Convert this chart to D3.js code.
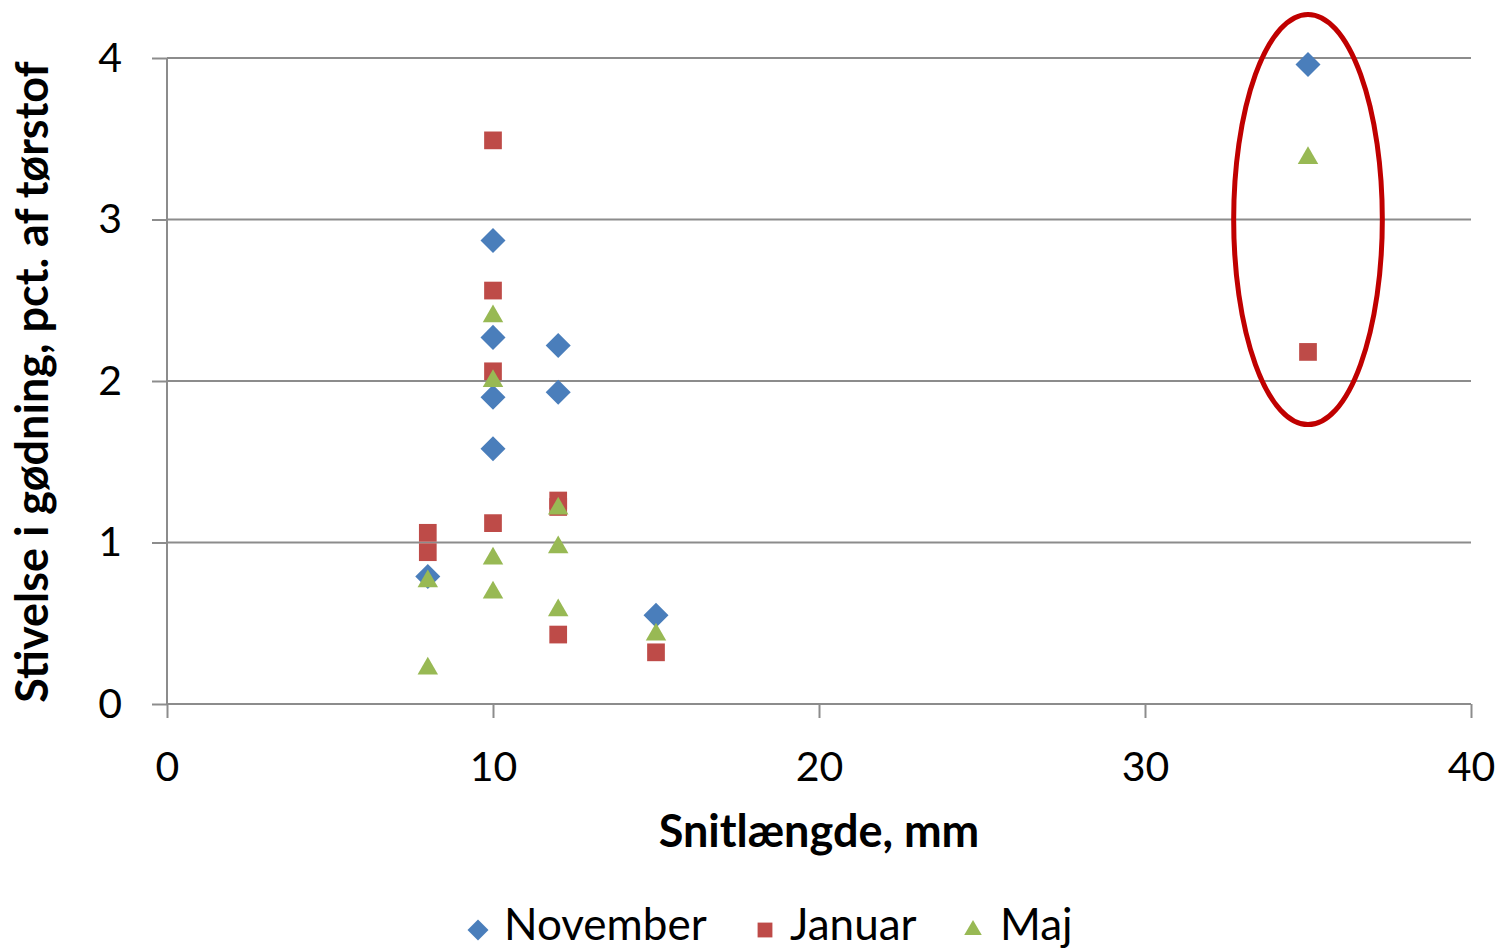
<!DOCTYPE html>
<html lang="da">
<head>
<meta charset="UTF-8">
<title>Stivelse i gødning</title>
<script src="https://cdn.jsdelivr.net/npm/d3@7"></script>
<style>
  body { margin: 0; background: #fff; }
  text { font-family: Lato, "Open Sans", sans-serif; fill: #000; }
</style>
</head>
<body>
<script>
// Data (x = snitlængde mm, y = stivelse pct.)
const novemberX = [8, 10, 10, 10, 10, 12, 12, 15, 35];
const novemberY = [0.79, 2.87, 2.27, 1.90, 1.58, 2.22, 1.93, 0.55, 3.96];
const januarX = [8, 8, 10, 10, 10, 10, 12, 12, 12, 15, 35];
const januarY = [1.06, 0.94, 3.49, 2.56, 2.06, 1.12, 1.26, 1.22, 0.43, 0.32, 2.18];
const majX = [8, 8, 10, 10, 10, 10, 12, 12, 12, 15, 35];
const majY = [0.76, 0.22, 2.40, 2.00, 0.90, 0.69, 1.21, 0.97, 0.58, 0.43, 3.38];
const seriesNames = ["November", "Januar", "Maj"];
const xTicks = [0, 10, 20, 30, 40];
const yTicks = [0, 1, 2, 3, 4];
// highlighted area around the 35 mm points (data units)
const ringCenter = [35, 3.0];
const ringRadius = [2.28, 1.27];

const width = 1501, height = 950;
const colors = {November: "#4a7ebb", Januar: "#be4b48", Maj: "#98b954"};
const symbols = {November: d3.symbolDiamond2, Januar: d3.symbolSquare2, Maj: d3.symbolTriangle2};

const svg = d3.select("body").append("svg")
    .attr("width", width)
    .attr("height", height);

const x = d3.scaleLinear().domain([0, 40]).range([167, 1471]);
const y = d3.scaleLinear().domain([0, 4]).range([704, 58]);

// gridlines
svg.append("g")
    .selectAll("line")
    .data(yTicks.slice(1))
    .join("line")
    .attr("x1", x(0)).attr("x2", x(40))
    .attr("y1", d => y(d)).attr("y2", d => y(d))
    .attr("stroke", "#8c8c8c")
    .attr("stroke-width", 2);

// y axis
const yAxis = svg.append("g")
    .attr("transform", `translate(${x(0)},0)`)
    .call(d3.axisLeft(y).tickValues(yTicks).tickSize(15).tickPadding(30).tickFormat(d3.format("d")));
// x axis
const xAxis = svg.append("g")
    .attr("transform", `translate(0,${y(0)})`)
    .call(d3.axisBottom(x).tickValues(xTicks).tickSize(14).tickPadding(34).tickFormat(d3.format("d")));

[yAxis, xAxis].forEach(a => {
    a.select(".domain").attr("stroke", "#8c8c8c").attr("stroke-width", 2);
    a.selectAll(".tick line").attr("stroke", "#8c8c8c").attr("stroke-width", 2);
    a.selectAll(".tick text").attr("font-size", 41).attr("font-family", "Lato, 'Open Sans', sans-serif").attr("fill", "#000");
});
// plain axis lines without outer ticks
yAxis.select(".domain").attr("d", `M0,${y(4)}V${y(0)}`);
xAxis.select(".domain").attr("d", `M${x(0)},0H${x(40)}`);

// points
const series = [
    {name: "November", xs: novemberX, ys: novemberY},
    {name: "Januar", xs: januarX, ys: januarY},
    {name: "Maj", xs: majX, ys: majY}
];
series.forEach(s => {
    const pts = s.xs.map((v, i) => [v, s.ys[i]]);
    svg.append("g")
        .selectAll("path")
        .data(pts)
        .join("path")
        .attr("transform", d => `translate(${x(d[0])},${y(d[1])})`)
        .attr("d", d3.symbol().type(symbols[s.name]).size(s.name === "Maj" ? 300 : 400))
        .attr("fill", colors[s.name]);
});

// red ring
svg.append("ellipse")
    .attr("cx", x(ringCenter[0]))
    .attr("cy", y(ringCenter[1]))
    .attr("rx", x(ringRadius[0]) - x(0))
    .attr("ry", y(0) - y(ringRadius[1]))
    .attr("fill", "none")
    .attr("stroke", "#c00000")
    .attr("stroke-width", 5);

// axis titles
svg.append("text")
    .attr("x", 819).attr("y", 847)
    .attr("text-anchor", "middle")
    .attr("font-size", 45).attr("font-weight", "bold")
    .text("Snitlængde, mm");

svg.append("text")
    .attr("transform", "translate(48,382) rotate(-90)")
    .attr("text-anchor", "middle")
    .attr("font-size", 45).attr("font-weight", "bold")
    .text("Stivelse i gødning, pct. af tørstof");

// legend
const legendPos = [{mx: 478, tx: 504}, {mx: 765, tx: 790}, {mx: 973, tx: 1000}];
seriesNames.forEach((name, i) => {
    const g = svg.append("g");
    g.append("path")
        .attr("transform", `translate(${legendPos[i].mx},930)`)
        .attr("d", d3.symbol().type(symbols[name]).size(name === "Maj" ? 220 : 280))
        .attr("fill", colors[name]);
    g.append("text")
        .attr("x", legendPos[i].tx).attr("y", 940)
        .attr("font-size", 44)
        .text(name);
});
</script>
</body>
</html>
